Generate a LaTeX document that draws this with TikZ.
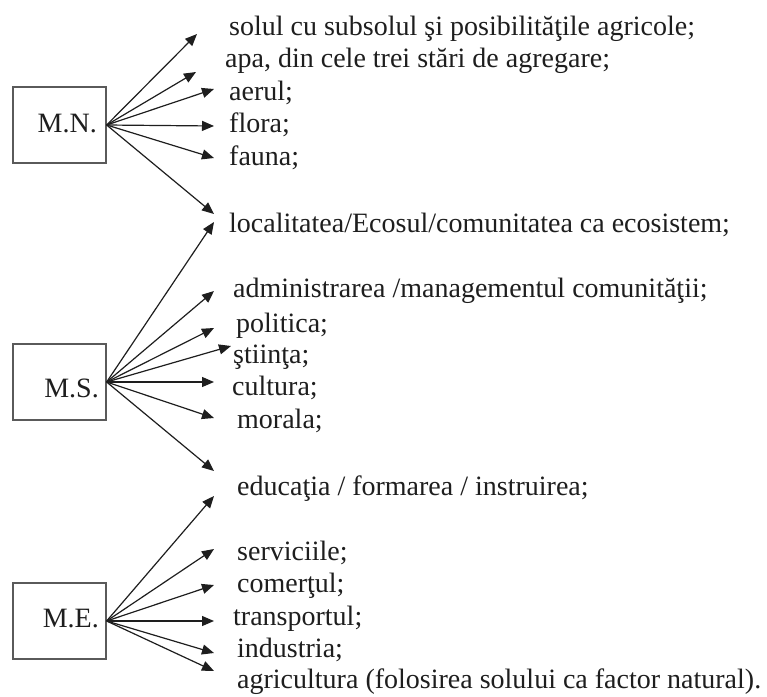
\documentclass[tikz,border=0pt]{standalone}
\usepackage{fontspec}
\setmainfont{Liberation Serif}
\usetikzlibrary{arrows.meta}
\definecolor{ink}{HTML}{1E1E1E}
\definecolor{boxline}{HTML}{5A5A5A}
\begin{document}
\begin{tikzpicture}[x=1pt,y=-1pt,
  box/.style={draw=boxline,line width=1.3pt,minimum width=93pt,minimum height=76pt,inner sep=0pt},
  lbl/.style={anchor=base east,inner sep=0pt,text=ink,font=\fontsize{28}{32}\selectfont},
  item/.style={anchor=base west,inner sep=0pt,text=ink,font=\fontsize{28}{32}\selectfont},
  arr/.style={draw=ink,line width=1.2pt,-{Triangle[length=12pt,width=10pt]}}]
\useasboundingbox (0,0) rectangle (767,696);
\fill[white] (0,0) rectangle (767,696);
% boxes
\node[box] (mn) at (59.5,125) {};
\node[box] (ms) at (59.5,382) {};
\node[box] (me) at (59.5,621) {};
\node[lbl] (mnl) at (97,132) {M.N.};
\node[lbl] (msl) at (99,397) {M.S.};
\node[lbl] (mel) at (99,627) {M.E.};
% texts
\node[item] (t1) at (229,35) {solul cu subsolul şi posibilităţile agricole;};
\node[item] (t2) at (225,67) {apa, din cele trei stări de agregare;};
\node[item] (t3) at (229,100) {aerul;};
\node[item] (t4) at (229,132) {flora;};
\node[item] (t5) at (229,165) {fauna;};
\node[item] (t6) at (229,232) {localitatea/Ecosul/comunitatea ca ecosistem;};
\node[item] (t7) at (233,297) {administrarea /managementul comunităţii;};
\node[item] (t8) at (236,332) {politica;};
\node[item] (t9) at (233,363) {ştiinţa;};
\node[item] (t10) at (232,395) {cultura;};
\node[item] (t11) at (237,428) {morala;};
\node[item] (t12) at (237,495) {educaţia / formarea / instruirea;};
\node[item] (t13) at (237,560) {serviciile;};
\node[item] (t14) at (237,592) {comerţul;};
\node[item] (t15) at (233,625) {transportul;};
\node[item] (t16) at (237,657) {industria;};
\node[item] (t17) at (237,688) {agricultura (folosirea solului ca factor natural).};
% arrow tips
\coordinate (a1) at (197,34);
\coordinate (a2) at (196,72);
\coordinate (a3) at (214,89);
\coordinate (a4) at (214,126);
\coordinate (a5) at (214,158);
\coordinate (a6) at (214,214);
\coordinate (b6) at (214,222);
\coordinate (b7) at (214,291);
\coordinate (b8) at (214,328);
\coordinate (b9) at (231,346);
\coordinate (b10) at (214,382);
\coordinate (b11) at (214,418);
\coordinate (b12) at (214,471);
\coordinate (c12) at (214,496);
\coordinate (c13) at (214,549);
\coordinate (c14) at (214,585);
\coordinate (c15) at (214,621);
\coordinate (c16) at (214,653);
\coordinate (c17) at (214,671);
% arrows
\foreach \t in {a1,a2,a3,a4,a5,a6} \draw[arr] (mn.east) -- (\t);
\foreach \t in {b6,b7,b8,b9,b10,b11,b12} \draw[arr] (ms.east) -- (\t);
\foreach \t in {c12,c13,c14,c15,c16,c17} \draw[arr] (me.east) -- (\t);
\end{tikzpicture}
\end{document}
